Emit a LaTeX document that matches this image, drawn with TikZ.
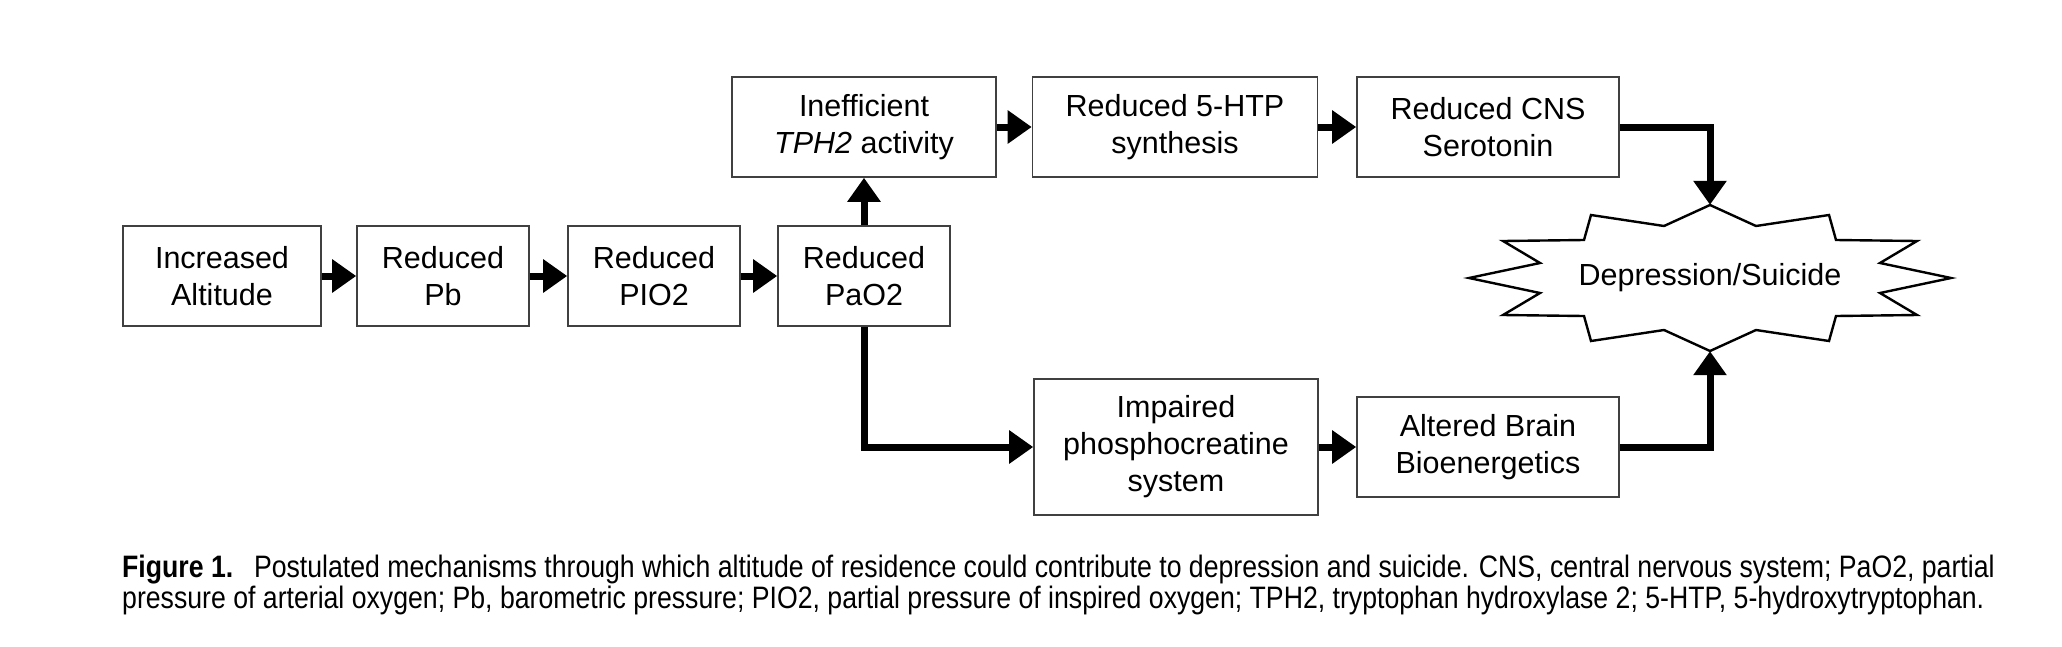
\documentclass[tikz,border=0pt]{standalone}
\usepackage{fontspec}
\setmainfont{Liberation Sans}
\newfontfamily\capfont[FakeStretch=0.86]{Liberation Sans}
\usetikzlibrary{arrows.meta}

\begin{document}
\begin{tikzpicture}[x=1pt,y=-1pt,
    box/.style={draw=black!75,line width=1.6pt,align=center,inner sep=0pt,%
      minimum height=100pt,font=\fontsize{30.5}{37}\selectfont},
    link/.style={line width=7pt,-{Triangle[length=24pt,width=32pt]}},
    captext/.style={anchor=base west,inner sep=0pt,font=\capfont\fontsize{31}{31}\selectfont}]
      \useasboundingbox (0,0) rectangle (2062,646) ;
      % main row
      \node[box,minimum width=198pt] (alt) at (222,276) {Increased\\Altitude} ;
      \node[box,minimum width=172pt] (pb) at (443,276) {Reduced\\Pb} ;
      \node[box,minimum width=172pt] (pio) at (654,276) {Reduced\\PIO2} ;
      \node[box,minimum width=172pt] (pao) at (864,276) {Reduced\\PaO2} ;
      % upper row
      \node[box,minimum width=264pt] (tph) at (864,127) {Inefficient\\\textit{TPH2} activity} ;
      \node[box,minimum width=285pt] (htp) at (1175,127) {Reduced 5-HTP\\synthesis} ;
      \node[box,minimum width=262pt] (cns) at (1488,127) {Reduced CNS\\Serotonin} ;
      % lower row
      \node[box,minimum width=284pt,minimum height=136pt] (imp) at (1176,447) %
      {Impaired\\phosphocreatine\\system} ;
      \node[box,minimum width=262pt] (bio) at (1488,447) {Altered Brain\\Bioenergetics} ;
      % outcome
      \node[inner sep=0pt,minimum width=482pt,minimum height=146pt,%
      font=\fontsize{30.5}{37}\selectfont] (dep) at (1710,278) {Depression/Suicide} ;
      \draw[line width=2.4pt,shift={(dep.center)}] (0,-73) -- (46,-52) -- (119,-63) %
      -- (126,-38) -- (207,-37) -- (170,-15) -- (241,0) -- (170,15) -- (207,37) %
      -- (126,38) -- (119,63) -- (46,52) -- (0,73) -- (-46,52) -- (-119,63) %
      -- (-126,38) -- (-207,37) -- (-170,15) -- (-241,0) -- (-170,-15) %
      -- (-207,-37) -- (-126,-38) -- (-119,-63) -- (-46,-52) -- cycle ;
      % arrows
      \draw[link] (alt) -- (pb) ;
      \draw[link] (pb) -- (pio) ;
      \draw[link] (pio) -- (pao) ;
      \draw[link] (pao) -- (tph) ;
      \draw[link] (tph) -- (htp) ;
      \draw[link] (htp) -- (cns) ;
      \draw[link] (cns.east) -| (dep.north) ;
      \draw[link] (pao.south) |- (imp.west) ;
      \draw[link] (imp) -- (bio) ;
      \draw[link] (bio.east) -| (dep.south) ;
      % caption
      \node[captext] (cap1) at (122,577) {\textbf{Figure 1.}\hspace{0.35em} Postulated %
      mechanisms through which altitude of residence could contribute to depression %
      and suicide. CNS, central nervous system; PaO2, partial} ;
      \node[captext] (cap2) at (122,608) {pressure of arterial oxygen; Pb, barometric %
      pressure; PIO2, partial pressure of inspired oxygen; TPH2, tryptophan hydroxylase 2; %
      5-HTP, 5-hydroxytryptophan.} ;
    \end{tikzpicture}
\end{document}
